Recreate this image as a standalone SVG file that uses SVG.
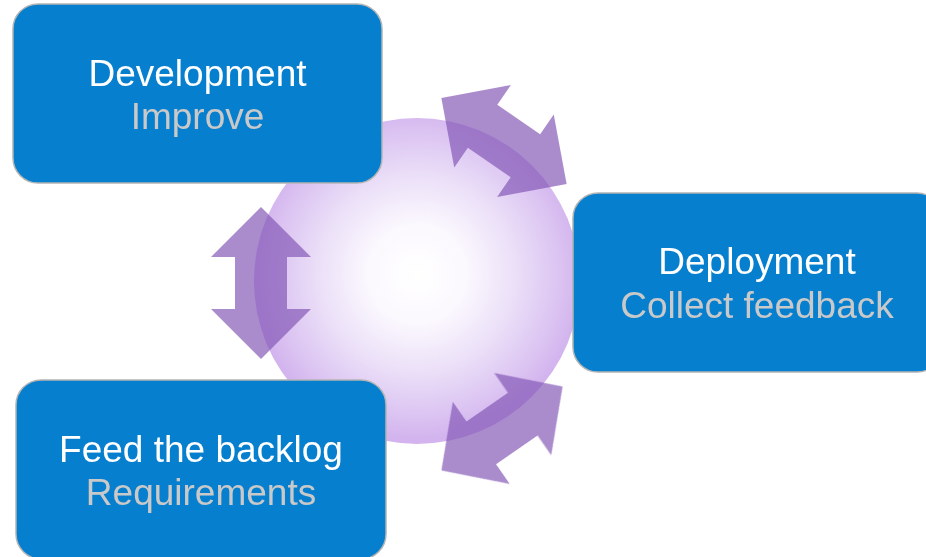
<svg xmlns="http://www.w3.org/2000/svg" xmlns:xlink="http://www.w3.org/1999/xlink" width="926" height="557" viewBox="0 0 926 557">
  <style>
    .box { fill: #077fcf; stroke: #b4b4b4; stroke-width: 1.5; }
    .title { font-family: "Liberation Sans", Arial, sans-serif; font-size: 37px; fill: #ffffff; text-anchor: middle; }
    .sub { font-family: "Liberation Sans", Arial, sans-serif; font-size: 37px; fill: #c9c9c9; text-anchor: middle; }
    .cycle-arrow { fill: #8256b5; fill-opacity: 0.68; }
  </style>
  <defs>
    <radialGradient id="hubFill" cx="417" cy="274" r="165" gradientUnits="userSpaceOnUse">
      <stop offset="0" stop-color="#ffffff"/>
      <stop offset="0.3" stop-color="#fbf8fe"/>
      <stop offset="0.6" stop-color="#ebdff8"/>
      <stop offset="0.85" stop-color="#dcc5f2"/>
      <stop offset="1" stop-color="#d3b4ee"/>
    </radialGradient>
    <filter id="soft" x="-10%" y="-10%" width="120%" height="120%">
      <feGaussianBlur stdDeviation="0.7"/>
    </filter>
    <!-- straight double-headed arrow, centred on the origin, axis along x -->
    <polygon id="dblArrow" points="-76,0 -26,-50 -26,-26 26,-26 26,-50 76,0 26,50 26,26 -26,26 -26,50"/>
  </defs>

  <!-- central hub -->
  <g id="hub">
    <circle cx="417" cy="281" r="163" fill="url(#hubFill)"/>
  </g>

  <!-- cycle arrows -->
  <g id="connectors" filter="url(#soft)">
    <use xlink:href="#dblArrow" class="cycle-arrow" transform="translate(504,141) rotate(34.5)"/>
    <use xlink:href="#dblArrow" class="cycle-arrow" transform="translate(261,283) rotate(90)"/>
    <use xlink:href="#dblArrow" class="cycle-arrow" transform="translate(502,428.5) rotate(145.3) scale(0.97,1)"/>
  </g>

  <g id="development">
    <rect class="box" x="13" y="4" width="369" height="179" rx="25" ry="25"/>
    <text class="title" x="197.5" y="86">Development</text>
    <text class="sub" x="197.5" y="129">Improve</text>
  </g>

  <g id="deployment">
    <rect class="box" x="573" y="193" width="369" height="179" rx="25" ry="25"/>
    <text class="title" x="757" y="274">Deployment</text>
    <text class="sub" x="757" y="318">Collect feedback</text>
  </g>

  <g id="backlog">
    <rect class="box" x="16" y="380" width="370" height="179" rx="25" ry="25"/>
    <text class="title" x="201" y="462">Feed the backlog</text>
    <text class="sub" x="201" y="505">Requirements</text>
  </g>
</svg>
